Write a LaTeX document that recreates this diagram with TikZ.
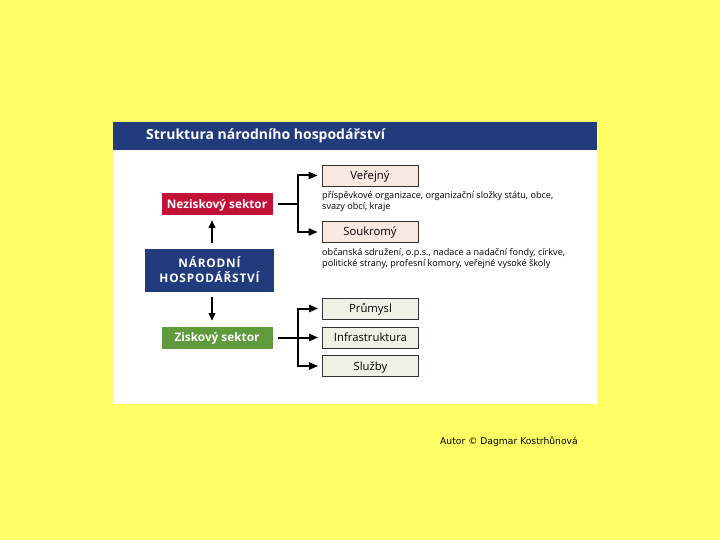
\documentclass[tikz,border=0pt]{standalone}
\usepackage{fontspec}
\setmainfont{Open Sans}
\newfontfamily\authorfont{DejaVu Sans}
\usetikzlibrary{arrows.meta}
\definecolor{bgyellow}{HTML}{FFFF66}
\definecolor{hdrblue}{HTML}{223B7D}
\definecolor{nzred}{HTML}{C2123A}
\definecolor{zsgreen}{HTML}{5F9A3C}
\definecolor{pinkfill}{HTML}{F7E8E2}
\definecolor{greenfill}{HTML}{F0F1E6}
\tikzset{
  sector/.style={minimum width=111pt, minimum height=22pt, inner sep=0pt, text height=8.4pt, text depth=0pt, text=white, font=\fontsize{11.8}{13}\selectfont\bfseries},
  subbox/.style={draw=black!80, line width=0.6pt, minimum width=96pt, minimum height=21pt, inner sep=0pt, text height=8pt, text depth=0pt, font=\fontsize{11.3}{13}\selectfont},
  desc/.style={anchor=north west, inner sep=0pt, align=left, font=\fontsize{9.1}{11.5}\selectfont},
  conn/.style={line width=2pt},
  arr/.style={line width=2pt, -{Triangle[length=9pt,width=7pt]}},
  varr/.style={line width=2pt, -{Triangle[length=8pt,width=6.5pt]}}
}
\begin{document}
\begin{tikzpicture}[x=1pt,y=-1pt]
\useasboundingbox (0,0) rectangle (720,540);
\fill[bgyellow] (0,0) rectangle (720,540);
\fill[white] (113,122) rectangle (597,404);
\fill[hdrblue] (113,122) rectangle (597,150);
\node[anchor=west, text=white, font=\fontsize{14}{16}\selectfont\bfseries, inner sep=0pt] (title) at (146,136) {Struktura národního hospodářství};

\node[sector, fill=nzred] (nezisk) at (217,204) {Neziskový sektor};
\node[fill=hdrblue, text=white, minimum width=129pt, minimum height=43pt, inner sep=0pt, align=center, font=\fontsize{11.8}{15}\selectfont\bfseries\addfontfeature{LetterSpace=7}] (narodni) at (209.5,270) {NÁRODNÍ\\HOSPODÁŘSTVÍ};
\node[sector, fill=zsgreen] (zisk) at (217,337.5) {Ziskový sektor};

\coordinate (nu) at (212,243);
\coordinate (nt) at (212,220);
\draw[varr] (nu) -- (nt);
\coordinate (ds) at (212,297);
\coordinate (dt) at (212,321);
\draw[varr] (ds) -- (dt);

\node[subbox, fill=pinkfill] (verejny) at (370,175.5) {Veřejný};
\node[subbox, fill=pinkfill] (soukromy) at (370,232) {Soukromý};
\node[desc] (d1) at (322,191) {příspěvkové organizace, organizační složky státu, obce,\\svazy obcí, kraje};
\node[desc] (d2) at (322,248) {občanská sdružení, o.p.s., nadace a nadační fondy, církve,\\politické strany, profesní komory, veřejné vysoké školy};

\node[subbox, fill=greenfill] (prumysl) at (370.5,308.5) {Průmysl};
\node[subbox, fill=greenfill] (infra) at (370.5,337.5) {Infrastruktura};
\node[subbox, fill=greenfill] (sluzby) at (370.5,366) {Služby};

\coordinate (nj) at (298,204);
\draw[conn, shorten <=5pt] (nezisk.east) -- (nj);
\draw[arr, shorten >=4pt] (nj) -- (298,175.5) -- (verejny.west);
\draw[arr, shorten >=4pt] (nj) -- (298,232) -- (soukromy.west);

\coordinate (zj) at (298,337.5);
\draw[conn, shorten <=5pt] (zisk.east) -- (zj);
\draw[arr, shorten >=4pt] (zj) -- (298,308.5) -- (prumysl.west);
\draw[arr, shorten >=4pt] (zj) -- (infra.west);
\draw[arr, shorten >=4pt] (zj) -- (298,366) -- (sluzby.west);

\node[anchor=west, inner sep=0pt, font=\authorfont\fontsize{9.2}{10}\selectfont] (autor) at (440,442) {Autor © Dagmar Kostrhůnová};
\end{tikzpicture}
\end{document}
